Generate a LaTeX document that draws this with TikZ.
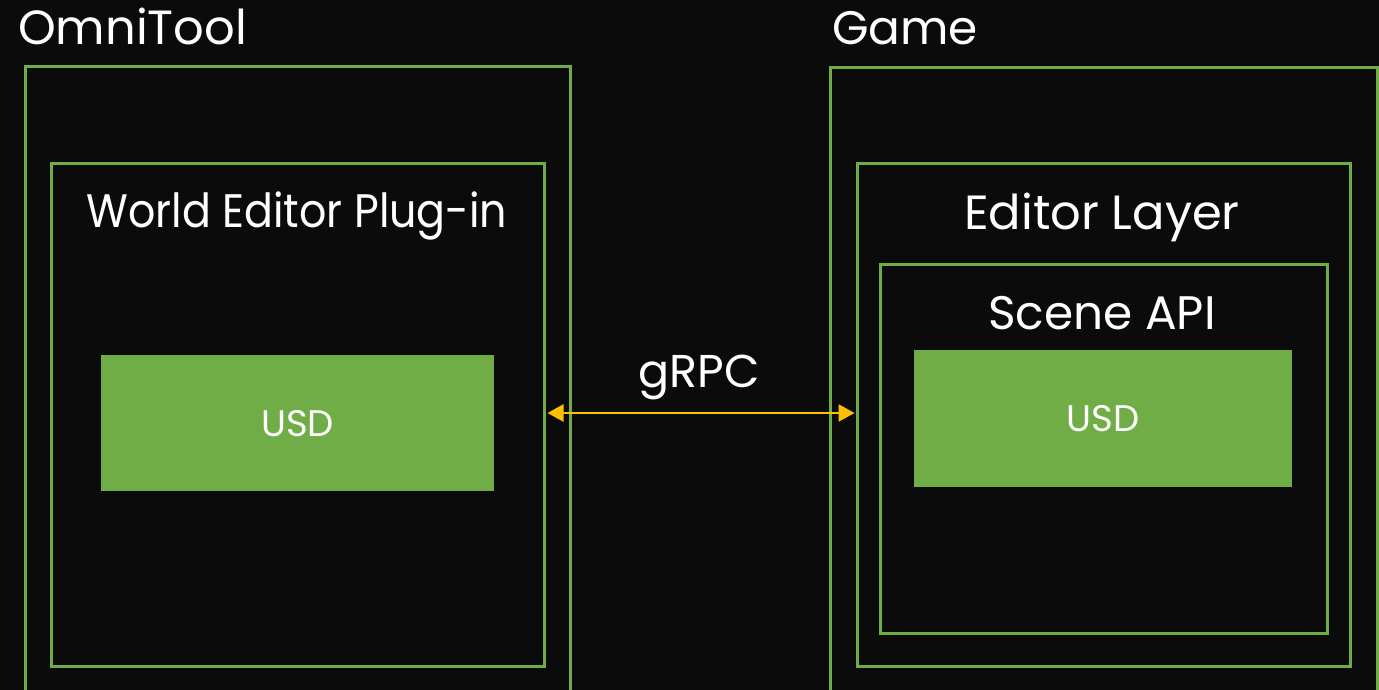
\documentclass[tikz,border=0pt]{standalone}
\usepackage{fontspec}
\setmainfont{Poppins}
\usetikzlibrary{arrows.meta}
\definecolor{bg}{RGB}{11,11,11}
\definecolor{leaf}{RGB}{112,173,71}
\definecolor{amber}{RGB}{255,192,0}
\tikzset{
  frame/.style={draw=leaf, line width=3pt, anchor=north west, inner sep=0pt},
  usdbox/.style={fill=leaf, anchor=north west, inner sep=0pt, text=white,
    font=\fontsize{37}{42}\selectfont},
  title/.style={text=white, inner sep=0pt, font=\fontsize{47}{54}\selectfont},
  link/.style={draw=amber, line width=2.5pt, {Triangle[length=16pt,width=17pt]}-{Triangle[length=16pt,width=17pt]}},
}
\begin{document}
\begin{tikzpicture}[x=1pt,y=-1pt]
\useasboundingbox (0,0) rectangle (1379,690);
\fill[bg] (0,0) rectangle (1379,690);
\clip (0,0) rectangle (1379,690);

% OmniTool side
\node[frame, minimum width=545pt, minimum height=660pt] (omni) at (24,65) {};
\node[title, font=\fontsize{48}{54}\selectfont, anchor=base west] (omnit) at (18,45) {OmniTool};
\node[frame, minimum width=493pt, minimum height=503pt] (plugin) at (50,162) {};
\node[title, anchor=base, xscale=0.91, transform shape] (plugint) at (297,227) {World Editor Plug-in};
\node[usdbox, minimum width=393pt, minimum height=136pt] (usdl) at (101,355) {USD};

% Game side
\node[frame, minimum width=547pt, minimum height=660pt] (game) at (829,66) {};
\node[title, anchor=base west] (gamet) at (832,45) {Game};
\node[frame, minimum width=493pt, minimum height=503pt] (layer) at (856,162) {};
\node[title, font=\fontsize{48}{54}\selectfont, anchor=base] (layert) at (1102,229) {Editor Layer};
\node[title, anchor=base] (scenet) at (1102,329) {Scene API};
\node[frame, minimum width=447pt, minimum height=369pt] (scene) at (879,263) {};
\node[usdbox, minimum width=378pt, minimum height=137pt] (usdr) at (914,350) {USD};

% gRPC link between the two plug-in layers
\coordinate (la) at (plugin.east |- 0,413);
\coordinate (lb) at (layer.west |- 0,413);
\draw[link] ([xshift=1.5pt]la) -- ([xshift=-1.5pt]lb);
\node[title, font=\fontsize{46}{52}\selectfont, anchor=base] (grpc) at (699,387) {gRPC};
\end{tikzpicture}
\end{document}
